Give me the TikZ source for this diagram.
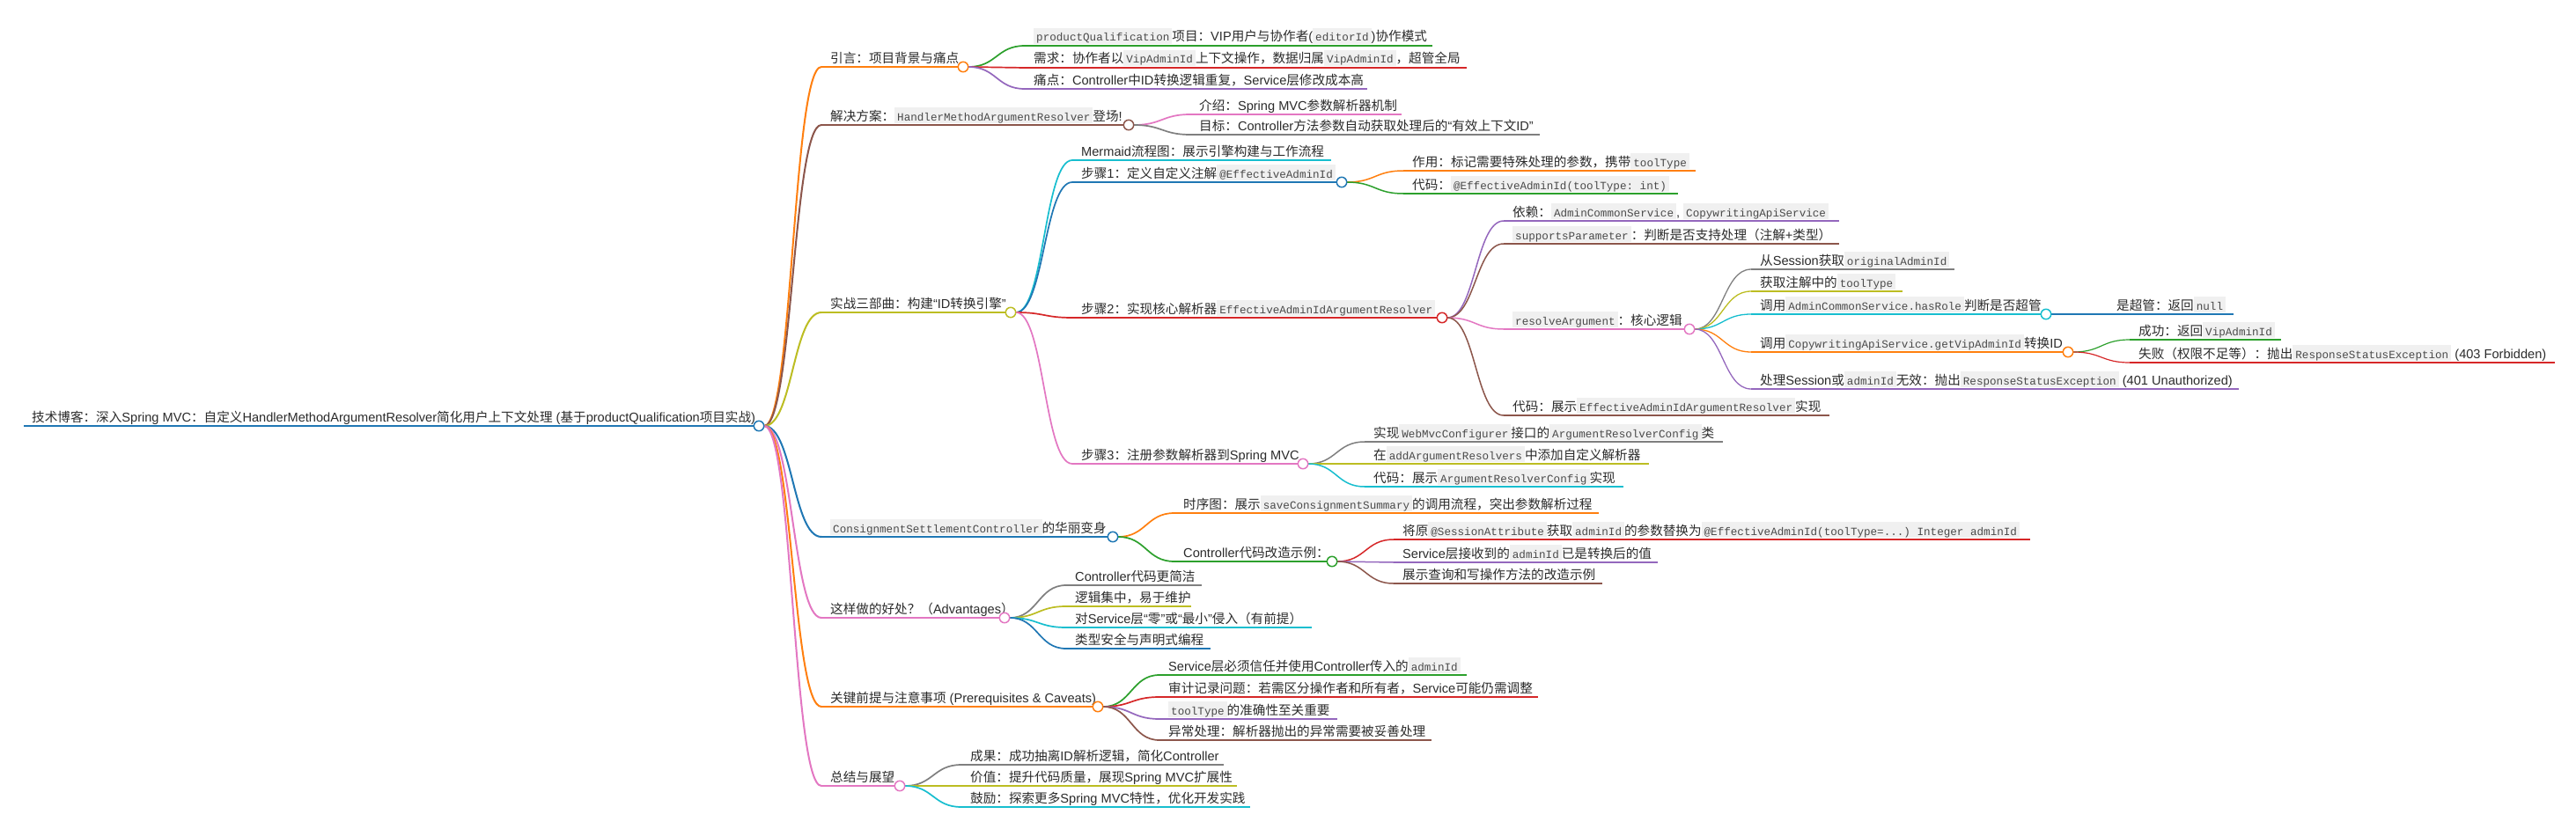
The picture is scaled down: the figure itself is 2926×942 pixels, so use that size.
\documentclass[tikz,border=0pt]{standalone}
\usepackage{fontspec}
\setmainfont{Liberation Sans}
\setmonofont{Liberation Mono}
\newfontfamily\cjkfont{Noto Sans CJK SC}
\usetikzlibrary{calc}
\pgfdeclarelayer{back}
\pgfdeclarelayer{bg}
\pgfsetlayers{back,bg,main}

% automatic CJK font switching
\newXeTeXintercharclass\mmCJKclass
\newcount\mmi
\mmi="3000
\loop\ifnum\mmi<"3040 \XeTeXcharclass\mmi=\mmCJKclass \advance\mmi by 1 \repeat
\mmi="4E00
\loop\ifnum\mmi<"A000 \XeTeXcharclass\mmi=\mmCJKclass \advance\mmi by 1 \repeat
\mmi="FF00
\loop\ifnum\mmi<"FFF0 \XeTeXcharclass\mmi=\mmCJKclass \advance\mmi by 1 \repeat
\XeTeXinterchartoks 0 \mmCJKclass={\cjkfont}
\XeTeXinterchartoks 4095 \mmCJKclass={\cjkfont}
\XeTeXinterchartoks \mmCJKclass 0={\rmfamily}
\XeTeXinterchartoks \mmCJKclass 4095={\rmfamily}
\XeTeXinterchartokenstate=1

\definecolor{cblue}{HTML}{1F77B4}
\definecolor{corange}{HTML}{FF7F0E}
\definecolor{cgreen}{HTML}{2CA02C}
\definecolor{cred}{HTML}{D62728}
\definecolor{cpurple}{HTML}{9467BD}
\definecolor{cbrown}{HTML}{8C564B}
\definecolor{cpink}{HTML}{E377C2}
\definecolor{cgray}{HTML}{7F7F7F}
\definecolor{colive}{HTML}{BCBD22}
\definecolor{ccyan}{HTML}{17BECF}
\definecolor{txt}{HTML}{2B2B2B}
\definecolor{codebg}{HTML}{F0F0F0}
\definecolor{codefg}{HTML}{4A4A4A}

\newcommand\mmfont{\fontsize{14.6}{17}\selectfont}
\newcommand\code[1]{{\setlength\fboxsep{0pt}\colorbox{codebg}{\hspace{3pt}\rule[-3pt]{0pt}{18pt}\ttfamily\fontsize{12.6}{14}\selectfont\color{codefg}#1\hspace{3pt}}}}

\tikzset{
  lbl/.style={inner sep=0pt, anchor=base west, text=txt, font=\mmfont},
  dot/.style={circle, minimum size=11.4pt, inner sep=0pt, fill=white, line width=1.5pt}
}

% #1 name, #2 parent, #3 line start x, #4 y, #5 line end x, #6 colour, #7 width, #8 text
\newcommand\mmnode[8]{%
  \coordinate (#1-s) at (#3,#4);
  \coordinate (#1) at (#5,#4);
  \node[lbl] (#1-t) at ($(#1-s)+(10,-5)$) {#8};
  \begin{pgfonlayer}{bg}
    \draw[#6, line width=#7] (#1-s) -- (#1);
    \draw[#6, line width=#7] let \p1=($(#2)+(6,0)$), \p2=(#1-s) in
      (\p1) .. controls ({(\x1+\x2)/2},\y1) and ({(\x1+\x2)/2},\y2) .. (\p2);
  \end{pgfonlayer}
}
\newcommand\mmdot[2]{\node[dot, draw=#2] (#1-c) at (#1) {};}

\begin{document}
\begin{tikzpicture}[x=1pt,y=-1pt]
\begin{pgfonlayer}{back}
\fill[white] (0,0) rectangle (2926,942);
\end{pgfonlayer}
\useasboundingbox (0,0) rectangle (2926,942);

% root
\coordinate (root-s) at (27,484);
\coordinate (root) at (862,484);
\node[lbl] (root-t) at (36,479) {技术博客：深入Spring MVC：自定义HandlerMethodArgumentResolver简化用户上下文处理 (基于productQualification项目实战)};
\begin{pgfonlayer}{bg}\draw[cblue, line width=2.5pt] (root-s) -- (root);\end{pgfonlayer}

% level 1
\mmnode{intro}{root}{933}{76}{1094}{corange}{2pt}{引言：项目背景与痛点}
\mmnode{sol}{root}{933}{142}{1282}{cbrown}{2pt}{解决方案：\code{HandlerMethodArgumentResolver}登场!}
\mmnode{war}{root}{933}{355}{1148}{colive}{2pt}{实战三部曲：构建“ID转换引擎”}
\mmnode{cons}{root}{933}{610}{1264}{cblue}{2pt}{\code{ConsignmentSettlementController}的华丽变身}
\mmnode{adv}{root}{933}{702}{1141}{cpink}{2pt}{这样做的好处？（Advantages）}
\mmnode{pre}{root}{933}{803}{1247}{corange}{2pt}{关键前提与注意事项 (Prerequisites \& Caveats)}
\mmnode{sum}{root}{933}{893}{1022}{cpink}{2pt}{总结与展望}

% intro
\mmnode{pq}{intro}{1164}{52}{1627}{cgreen}{1.7pt}{\code{productQualification}项目：VIP用户与协作者(\code{editorId})协作模式}
\mmnode{req}{intro}{1164}{77}{1666}{cred}{1.7pt}{需求：协作者以\code{VipAdminId}上下文操作，数据归属\code{VipAdminId}，超管全局}
\mmnode{pain}{intro}{1164}{101}{1553}{cpurple}{1.7pt}{痛点：Controller中ID转换逻辑重复，Service层修改成本高}

% solution
\mmnode{intro2}{sol}{1352}{130}{1592}{cpink}{1.7pt}{介绍：Spring MVC参数解析器机制}
\mmnode{goal}{sol}{1352}{153}{1749}{cgray}{1.7pt}{目标：Controller方法参数自动获取处理后的“有效上下文ID”}

% war
\mmnode{mermaid}{war}{1218}{182}{1512}{ccyan}{1.7pt}{Mermaid流程图：展示引擎构建与工作流程}
\mmnode{step1}{war}{1218}{207}{1524}{cblue}{1.7pt}{步骤1：定义自定义注解\code{@EffectiveAdminId}}
\mmnode{step2}{war}{1218}{361}{1638}{cred}{1.7pt}{步骤2：实现核心解析器\code{EffectiveAdminIdArgumentResolver}}
\mmnode{step3}{war}{1218}{527}{1480}{cpink}{1.7pt}{步骤3：注册参数解析器到Spring MVC}

\mmnode{role}{step1}{1594}{194}{1926}{corange}{1.5pt}{作用：标记需要特殊处理的参数，携带\code{toolType}}
\mmnode{code1}{step1}{1594}{220}{1906}{cgreen}{1.5pt}{代码：\code{@EffectiveAdminId(toolType: int)}}

\mmnode{dep}{step2}{1708}{251}{2089}{cpurple}{1.5pt}{依赖：\code{AdminCommonService}, \code{CopywritingApiService}}
\mmnode{sup}{step2}{1708}{277}{2089}{cbrown}{1.5pt}{\code{supportsParameter}：判断是否支持处理（注解+类型）}
\mmnode{resolve}{step2}{1708}{374}{1919}{cpink}{1.5pt}{\code{resolveArgument}：核心逻辑}
\mmnode{code2}{step2}{1708}{472}{2078}{cbrown}{1.5pt}{代码：展示\code{EffectiveAdminIdArgumentResolver}实现}

\mmnode{fromSess}{resolve}{1989}{306}{2220}{cgray}{1.3pt}{从Session获取\code{originalAdminId}}
\mmnode{getTool}{resolve}{1989}{331}{2161}{colive}{1.3pt}{获取注解中的\code{toolType}}
\mmnode{hasRole}{resolve}{1989}{357}{2324}{ccyan}{1.3pt}{调用\code{AdminCommonService.hasRole}判断是否超管}
\mmnode{callCopy}{resolve}{1989}{400}{2349}{corange}{1.3pt}{调用\code{CopywritingApiService.getVipAdminId}转换ID}
\mmnode{handleSess}{resolve}{1989}{442}{2543}{cpurple}{1.3pt}{处理Session或\code{adminId}无效：抛出\code{ResponseStatusException} (401 Unauthorized)}

\mmnode{isSuper}{hasRole}{2394}{357}{2537}{cblue}{1.2pt}{是超管：返回\code{null}}
\mmnode{ok}{callCopy}{2419}{386}{2591}{cgreen}{1.2pt}{成功：返回\code{VipAdminId}}
\mmnode{fail}{callCopy}{2419}{412}{2902}{cred}{1.2pt}{失败（权限不足等）：抛出\code{ResponseStatusException} (403 Forbidden)}

\mmnode{impl}{step3}{1550}{502}{1957}{cgray}{1.5pt}{实现\code{WebMvcConfigurer}接口的\code{ArgumentResolverConfig}类}
\mmnode{addArg}{step3}{1550}{527}{1873}{colive}{1.5pt}{在\code{addArgumentResolvers}中添加自定义解析器}
\mmnode{code3}{step3}{1550}{553}{1844}{ccyan}{1.5pt}{代码：展示\code{ArgumentResolverConfig}实现}

% consignment
\mmnode{seq}{cons}{1334}{583}{1816}{corange}{1.7pt}{时序图：展示\code{saveConsignmentSummary}的调用流程，突出参数解析过程}
\mmnode{ctrl}{cons}{1334}{638}{1513}{cgreen}{1.7pt}{Controller代码改造示例：}
\mmnode{replace}{ctrl}{1583}{613}{2306}{cred}{1.5pt}{将原\code{@SessionAttribute}获取\code{adminId}的参数替换为\code{@EffectiveAdminId(toolType=...) Integer adminId}}
\mmnode{svcRecv}{ctrl}{1583}{639}{1883}{cpurple}{1.5pt}{Service层接收到的\code{adminId}已是转换后的值}
\mmnode{showQ}{ctrl}{1583}{663}{1820}{cbrown}{1.5pt}{展示查询和写操作方法的改造示例}

% advantages
\mmnode{a1}{adv}{1211}{665}{1365}{cgray}{1.7pt}{Controller代码更简洁}
\mmnode{a2}{adv}{1211}{689}{1353}{colive}{1.7pt}{逻辑集中，易于维护}
\mmnode{a3}{adv}{1211}{713}{1490}{ccyan}{1.7pt}{对Service层“零”或“最小”侵入（有前提）}
\mmnode{a4}{adv}{1211}{737}{1375}{cblue}{1.7pt}{类型安全与声明式编程}

% prerequisites
\mmnode{p1}{pre}{1317}{767}{1666}{cgreen}{1.7pt}{Service层必须信任并使用Controller传入的\code{adminId}}
\mmnode{p2}{pre}{1317}{792}{1747}{cred}{1.7pt}{审计记录问题：若需区分操作者和所有者，Service可能仍需调整}
\mmnode{p3}{pre}{1317}{817}{1519}{cpurple}{1.7pt}{\code{toolType}的准确性至关重要}
\mmnode{p4}{pre}{1317}{841}{1626}{cbrown}{1.7pt}{异常处理：解析器抛出的异常需要被妥善处理}

% summary
\mmnode{s1}{sum}{1092}{869}{1390}{cgray}{1.7pt}{成果：成功抽离ID解析逻辑，简化Controller}
\mmnode{s2}{sum}{1092}{893}{1405}{colive}{1.7pt}{价值：提升代码质量，展现Spring MVC扩展性}
\mmnode{s3}{sum}{1092}{917}{1420}{ccyan}{1.7pt}{鼓励：探索更多Spring MVC特性，优化开发实践}

% junction circles
\mmdot{root}{cblue}
\mmdot{intro}{corange}
\mmdot{sol}{cbrown}
\mmdot{war}{colive}
\mmdot{cons}{cblue}
\mmdot{adv}{cpink}
\mmdot{pre}{corange}
\mmdot{sum}{cpink}
\mmdot{step1}{cblue}
\mmdot{step2}{cred}
\mmdot{step3}{cpink}
\mmdot{resolve}{cpink}
\mmdot{hasRole}{ccyan}
\mmdot{callCopy}{corange}
\mmdot{ctrl}{cgreen}
\end{tikzpicture}
\end{document}
